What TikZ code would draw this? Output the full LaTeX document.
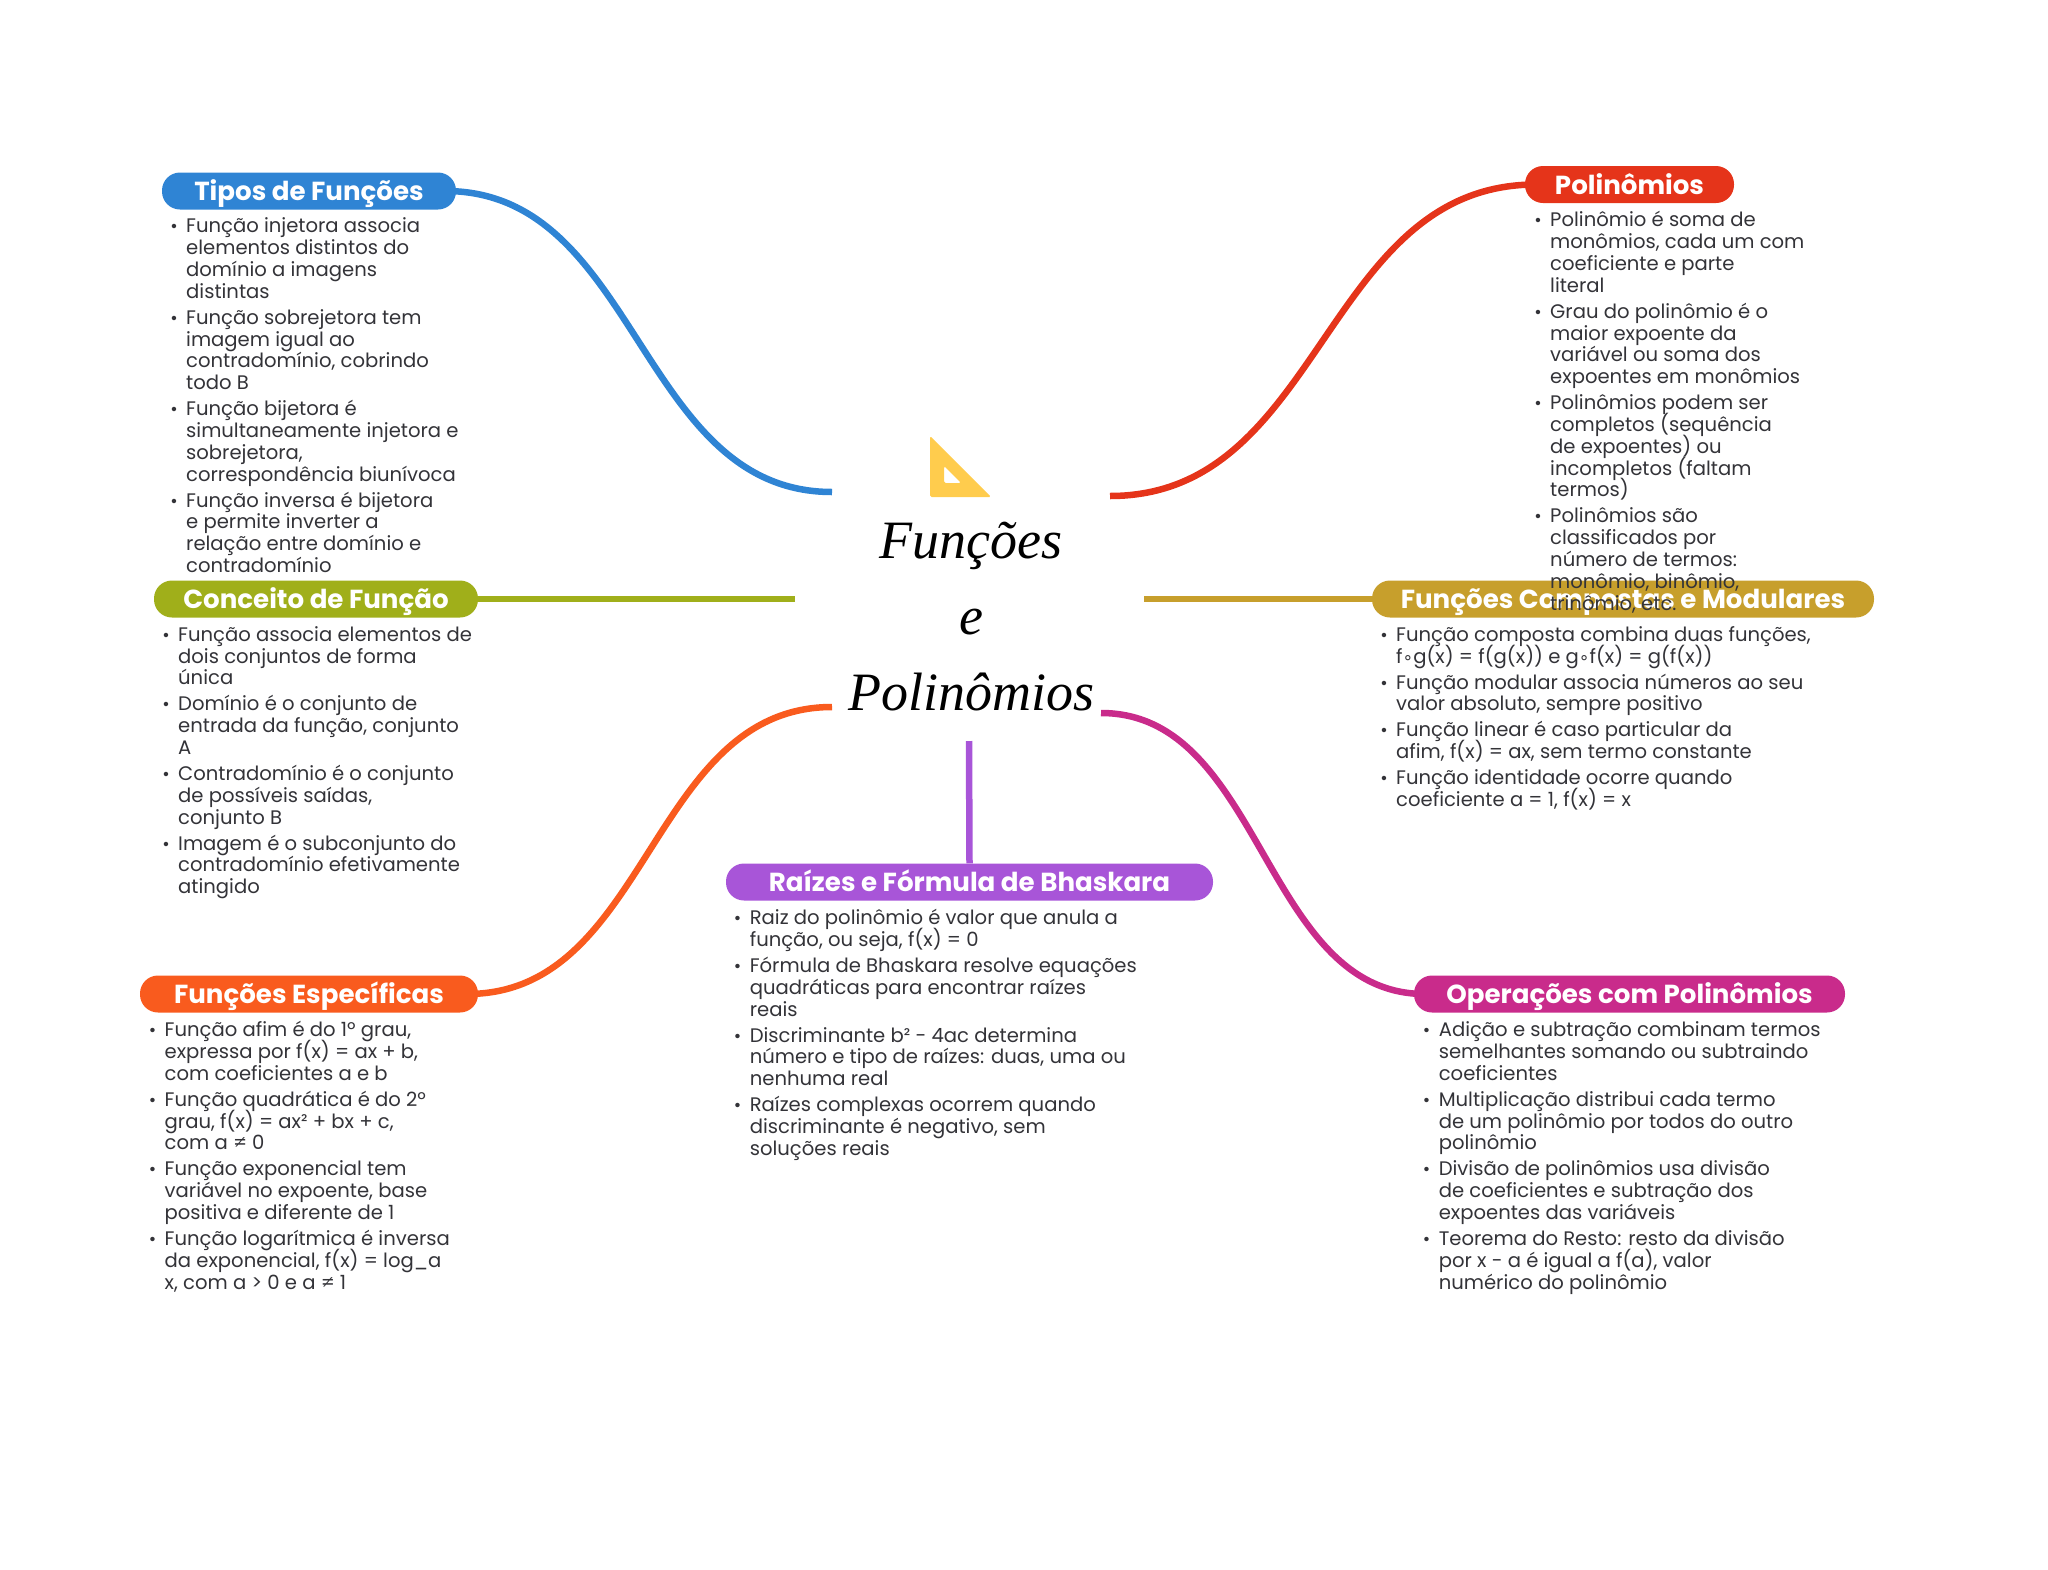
\documentclass[tikz,border=0pt]{standalone}
\usepackage{fontspec}
\usetikzlibrary{backgrounds}
\setmainfont{Poppins}
\newfontfamily\titlefont{Liberation Serif}
\newfontfamily\symfont{DejaVu Sans}
\definecolor{cblue}{HTML}{2F84D4}
\definecolor{cred}{HTML}{E5341A}
\definecolor{cgold}{HTML}{C79F2C}
\definecolor{cgreen}{HTML}{A0AF1A}
\definecolor{corange}{HTML}{F95B1E}
\definecolor{cpurple}{HTML}{A855D8}
\definecolor{cmagenta}{HTML}{C92B8B}
\definecolor{ctext}{HTML}{333338}
\definecolor{cicon}{HTML}{FFCC4D}
\newcommand{\TightLines}{\lineskiplimit=-30pt\relax}
\newcommand{\Bu}{\leavevmode\llap{{\fontsize{18}{18}\selectfont•}\hspace{8.5pt}}\rule{0pt}{20pt}}
\newcommand{\Ring}{{\symfont\fontsize{17}{17}\selectfont∘}}
\tikzset{
  x=1pt,y=-1pt,
  head/.style={rounded corners=18pt,inner sep=0pt,text=white,
    font=\fontsize{26.1}{28}\bfseries\selectfont,minimum height=37pt,text height=20pt,text depth=1pt},
  body/.style={anchor=north west,inner sep=0pt,align=left,text=ctext,
    font=\fontsize{19.6}{21.8}\selectfont\TightLines},
  link/.style={line width=6.5pt,line cap=butt},
}
\begin{document}
\begin{tikzpicture}
\useasboundingbox (0,0) rectangle (2048,1569);
\coordinate (eblue) at (832,492);
\coordinate (ered) at (1110,496);
\coordinate (egold) at (1144,599);
\coordinate (egreen) at (795,599);
\coordinate (eorange) at (832,707);
\coordinate (emagenta) at (1101,713);
\coordinate (epurple) at (969,741);

% icon
\fill[cicon,rounded corners=1.5pt,even odd rule] (930,436) -- (991,497) -- (930,497) -- cycle
  (944,466) -- (961,483) -- (944,483) -- cycle;

% title
\node[name=title,inner sep=0pt,align=center,anchor=base,font=\titlefont\itshape\fontsize{54}{76}\selectfont\TightLines,text=black] at (971,710) {Funções\\e\\Polinômios};

% headings
\node[head,fill=cgold,minimum width=502pt] (gold) at (1623,599) {Funções Compostas e Modulares};
\node[head,fill=cblue,minimum width=294pt] (blue) at (309,191) {Tipos de Funções};
\node[head,fill=cred,minimum width=209pt] (red) at (1629.5,184.5) {Polinômios};
\node[head,fill=cgreen,minimum width=324pt] (green) at (316,599) {Conceito de Função};
\node[head,fill=corange,minimum width=338pt] (orange) at (309,994) {Funções Específicas};
\node[head,fill=cpurple,minimum width=487pt] (purple) at (969.5,882) {Raízes e Fórmula de Bhaskara};
\node[head,fill=cmagenta,minimum width=431pt] (magenta) at (1629.5,994) {Operações com Polinômios};

% connectors
\begin{scope}[on background layer]
\draw[link,cblue] ([xshift=-11pt]blue.east) .. controls (638.5,191) and (638.5,492) .. (eblue);
\draw[link,cred] ([xshift=11pt]red.west) .. controls (1323,184.5) and (1323,496) .. (ered);
\draw[link,cgold] (egold) -- (gold.west);
\draw[link,cgreen] (egreen) -- (green.east);
\draw[link,corange] ([xshift=-11pt]orange.east) .. controls (649.5,994) and (649.5,707) .. (eorange);
\draw[link,cmagenta] ([xshift=11pt]magenta.west) .. controls (1263,994) and (1263,713) .. (emagenta);
\draw[link,cpurple] (epurple) -- (purple.north);
\end{scope}

% bodies
\node[body] (tb) at (186,212.7) {\Bu Função injetora associa\\elementos distintos do\\domínio a imagens\\distintas\\[4.2pt]
\Bu Função sobrejetora tem\\imagem igual ao\\contradomínio, cobrindo\\todo B\\[4.2pt]
\Bu Função bijetora é\\simultaneamente injetora e\\sobrejetora,\\correspondência biunívoca\\[4.2pt]
\Bu Função inversa é bijetora\\e permite inverter a\\relação entre domínio e\\contradomínio};
\node[body] (pb) at (1550,206.6) {\Bu Polinômio é soma de\\monômios, cada um com\\coeficiente e parte\\literal\\[4.2pt]
\Bu Grau do polinômio é o\\maior expoente da\\variável ou soma dos\\expoentes em monômios\\[4.2pt]
\Bu Polinômios podem ser\\completos (sequência\\de expoentes) ou\\incompletos (faltam\\termos)\\[4.2pt]
\Bu Polinômios são\\classificados por\\número de termos:\\monômio, binômio,\\trinômio, etc.};
\node[body] (gb) at (1396,621) {\Bu Função composta combina duas funções,\\f\Ring g(x) = f(g(x)) e g\Ring f(x) = g(f(x))\\[4.2pt]
\Bu Função modular associa números ao seu\\valor absoluto, sempre positivo\\[4.2pt]
\Bu Função linear é caso particular da\\afim, f(x) = ax, sem termo constante\\[4.2pt]
\Bu Função identidade ocorre quando\\coeficiente a = 1, f(x) = x};
\node[body] (cb) at (178,621) {\Bu Função associa elementos de\\dois conjuntos de forma\\única\\[4.2pt]
\Bu Domínio é o conjunto de\\entrada da função, conjunto\\A\\[4.2pt]
\Bu Contradomínio é o conjunto\\de possíveis saídas,\\conjunto B\\[4.2pt]
\Bu Imagem é o subconjunto do\\contradomínio efetivamente\\atingido};
\node[body] (eb) at (164.5,1016.4) {\Bu Função afim é do 1º grau,\\expressa por f(x) = ax + b,\\com coeficientes a e b\\[4.2pt]
\Bu Função quadrática é do 2º\\grau, f(x) = ax² + bx + c,\\com a ≠ 0\\[4.2pt]
\Bu Função exponencial tem\\variável no expoente, base\\positiva e diferente de 1\\[4.2pt]
\Bu Função logarítmica é inversa\\da exponencial, f(x) = log\_a\\x, com a > 0 e a ≠ 1};
\node[body] (rb) at (749.6,904.4) {\Bu Raiz do polinômio é valor que anula a\\função, ou seja, f(x) = 0\\[4.2pt]
\Bu Fórmula de Bhaskara resolve equações\\quadráticas para encontrar raízes\\reais\\[4.2pt]
\Bu Discriminante b² - 4ac determina\\número e tipo de raízes: duas, uma ou\\nenhuma real\\[4.2pt]
\Bu Raízes complexas ocorrem quando\\discriminante é negativo, sem\\soluções reais};
\node[body] (ob) at (1438.6,1016.4) {\Bu Adição e subtração combinam termos\\semelhantes somando ou subtraindo\\coeficientes\\[4.2pt]
\Bu Multiplicação distribui cada termo\\de um polinômio por todos do outro\\polinômio\\[4.2pt]
\Bu Divisão de polinômios usa divisão\\de coeficientes e subtração dos\\expoentes das variáveis\\[4.2pt]
\Bu Teorema do Resto: resto da divisão\\por x - a é igual a f(a), valor\\numérico do polinômio};
\end{tikzpicture}
\end{document}
